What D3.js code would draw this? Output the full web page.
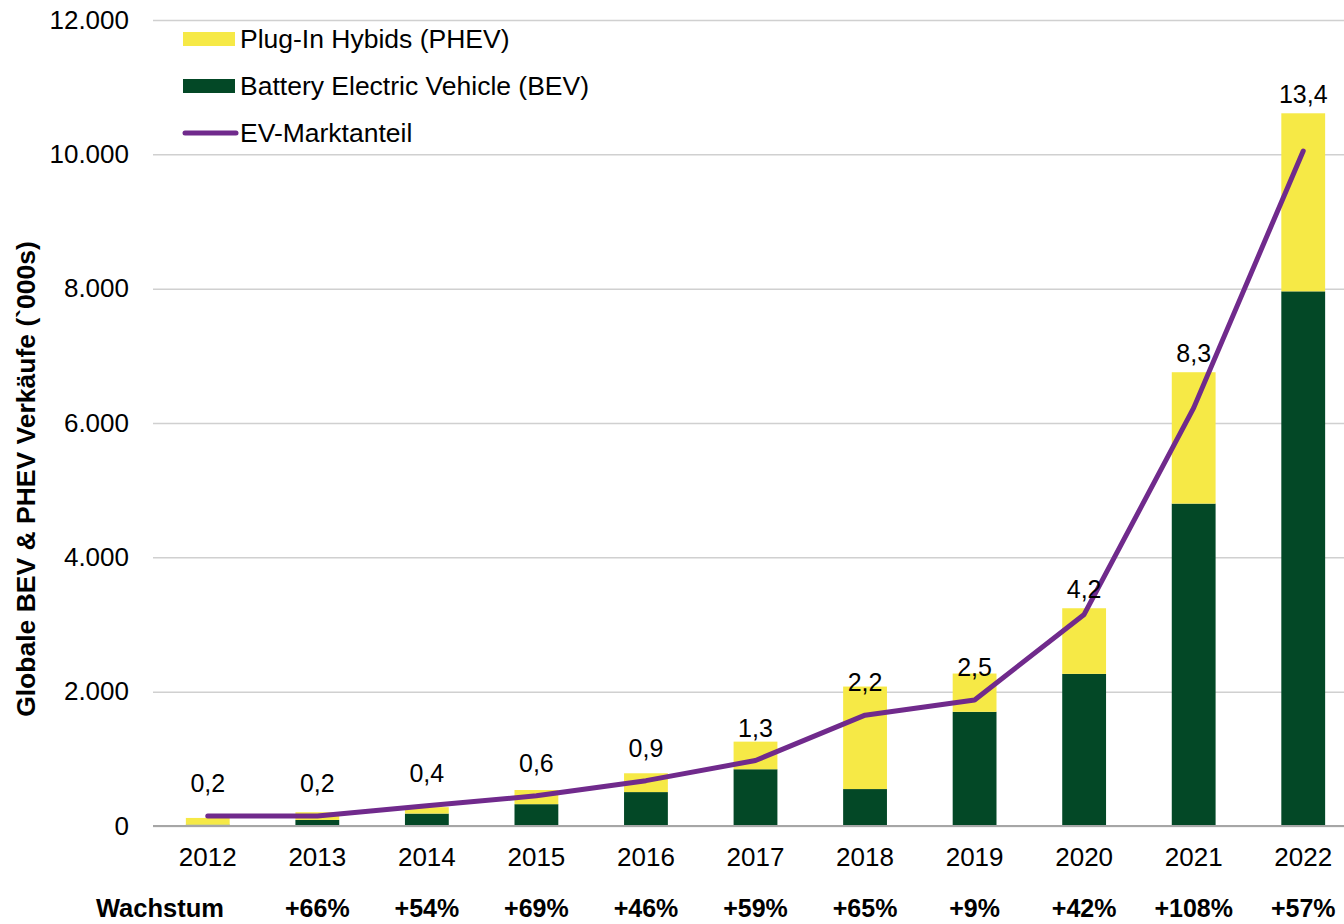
<!DOCTYPE html>
<html>
<head>
<meta charset="utf-8">
<script src="https://cdn.jsdelivr.net/npm/d3@7"></script>
<style>
  body { margin: 0; background: #fff; }
  text { font-family: Arial, "Liberation Sans", sans-serif; fill: #000; }
</style>
</head>
<body>
<script>
// values, sales in '000s
const years = ["2012", "2013", "2014", "2015", "2016", "2017", "2018", "2019", "2020", "2021", "2022"];
const bev = [20, 90, 185, 325, 505, 845, 550, 1700, 2265, 4800, 7960];
const phev = [100, 115, 95, 211, 280, 411, 1526, 570, 977, 1956, 2651];
// EV market share in %
const share = [0.2, 0.2, 0.4, 0.6, 0.9, 1.3, 2.2, 2.5, 4.2, 8.3, 13.4];
const growth = ["", "+66%", "+54%", "+69%", "+46%", "+59%", "+65%", "+9%", "+42%", "+108%", "+57%"];
const yTicks = [0, 2000, 4000, 6000, 8000, 10000, 12000];

const width = 1344, height = 924;
const plotLeft = 153, plotRight = 1358, plotTop = 20, plotBottom = 826;

const de = d3.formatLocale({decimal: ",", thousands: ".", grouping: [3], currency: ["", " €"]});
const fmtK = de.format(",d");
const fmtShare = de.format(",.1f");

const rows = years.map((y, i) => ({year: y, bev: bev[i], phev: phev[i], share: share[i], growth: growth[i]}));

const svg = d3.select("body").append("svg")
    .attr("width", width)
    .attr("height", height);

const x = d3.scaleBand()
    .domain(years)
    .range([plotLeft, plotRight])
    .paddingInner(0.6)
    .paddingOuter(0.3);

const y = d3.scaleLinear().domain([0, 12000]).range([plotBottom, plotTop]);
// share sits on a hidden second axis
const y2 = d3.scaleLinear().domain([0, 16]).range([plotBottom, plotTop]);

// gridlines + tick labels
const yAxis = svg.append("g")
    .attr("transform", `translate(${plotLeft},0)`)
    .call(d3.axisLeft(y).tickValues(yTicks).tickFormat(fmtK)
        .tickSize(-(width - plotLeft)).tickPadding(24));
yAxis.select(".domain").remove();
yAxis.selectAll(".tick line").attr("stroke", "#d0d0d0").attr("stroke-width", 1.5);
yAxis.selectAll(".tick text").attr("font-size", 26).attr("font-family", "Arial, 'Liberation Sans', sans-serif");

// stacked bars
const stack = d3.stack().keys(["bev", "phev"])(rows);
const colors = {bev: "#034826", phev: "#f6e946"};

svg.append("g")
  .selectAll("g")
  .data(stack)
  .join("g")
    .attr("fill", d => colors[d.key])
  .selectAll("rect")
  .data(d => d)
  .join("rect")
    .attr("x", d => x(d.data.year))
    .attr("width", x.bandwidth())
    .attr("y", d => y(d[1]))
    .attr("height", d => y(d[0]) - y(d[1]));

// zero line
svg.append("line")
    .attr("x1", plotLeft).attr("x2", width)
    .attr("y1", y(0)).attr("y2", y(0))
    .attr("stroke", "#a6a6a6").attr("stroke-width", 2);

// market share line
const line = d3.line()
    .x(d => x(d.year) + x.bandwidth() / 2)
    .y(d => y2(d.share));

svg.append("path")
    .datum(rows)
    .attr("fill", "none")
    .attr("stroke", "#702a8c")
    .attr("stroke-width", 5)
    .attr("stroke-linejoin", "round")
    .attr("stroke-linecap", "round")
    .attr("d", line);

// share labels
svg.append("g")
  .selectAll("text")
  .data(rows)
  .join("text")
    .attr("x", d => x(d.year) + x.bandwidth() / 2)
    .attr("y", d => d.share >= 4 ? y(d.bev + d.phev) - 10 : y2(d.share) - 24)
    .attr("text-anchor", "middle")
    .attr("font-size", 25)
    .text(d => fmtShare(d.share));

// year labels
const xAxis = svg.append("g")
    .attr("transform", `translate(0,${plotBottom})`)
    .call(d3.axisBottom(x).tickSize(0).tickPadding(22));
xAxis.select(".domain").remove();
xAxis.selectAll(".tick text").attr("font-size", 26).attr("font-family", "Arial, 'Liberation Sans', sans-serif");

// growth row
svg.append("text")
    .attr("x", 96).attr("y", 917)
    .attr("font-size", 25.5).attr("font-weight", "bold")
    .text("Wachstum");

svg.append("g")
  .selectAll("text")
  .data(rows.filter(d => d.growth))
  .join("text")
    .attr("x", d => x(d.year) + x.bandwidth() / 2)
    .attr("y", 917)
    .attr("text-anchor", "middle")
    .attr("font-size", 25)
    .attr("font-weight", "bold")
    .text(d => d.growth);

// y axis title
svg.append("text")
    .attr("transform", "translate(35,479) rotate(-90)")
    .attr("text-anchor", "middle")
    .attr("font-size", 26.5)
    .attr("font-weight", "bold")
    .text("Globale BEV & PHEV Verkäufe (`000s)");

// legend
const legend = svg.append("g");
const legendItems = [
  {label: "Plug-In Hybids (PHEV)", type: "rect", color: colors.phev},
  {label: "Battery Electric Vehicle (BEV)", type: "rect", color: colors.bev},
  {label: "EV-Marktanteil", type: "line", color: "#702a8c"}
];
const lg = legend.selectAll("g")
  .data(legendItems)
  .join("g")
    .attr("transform", (d, i) => `translate(183,${39 + i * 47})`);

lg.filter(d => d.type === "rect").append("rect")
    .attr("x", 0).attr("y", -7)
    .attr("width", 52).attr("height", 14)
    .attr("fill", d => d.color);
lg.filter(d => d.type === "line").append("line")
    .attr("x1", 2).attr("x2", 53)
    .attr("stroke", d => d.color)
    .attr("stroke-width", 5)
    .attr("stroke-linecap", "round");
lg.append("text")
    .attr("x", 57)
    .attr("dy", "0.35em")
    .attr("font-size", 26.5)
    .text(d => d.label);
</script>
</body>
</html>
